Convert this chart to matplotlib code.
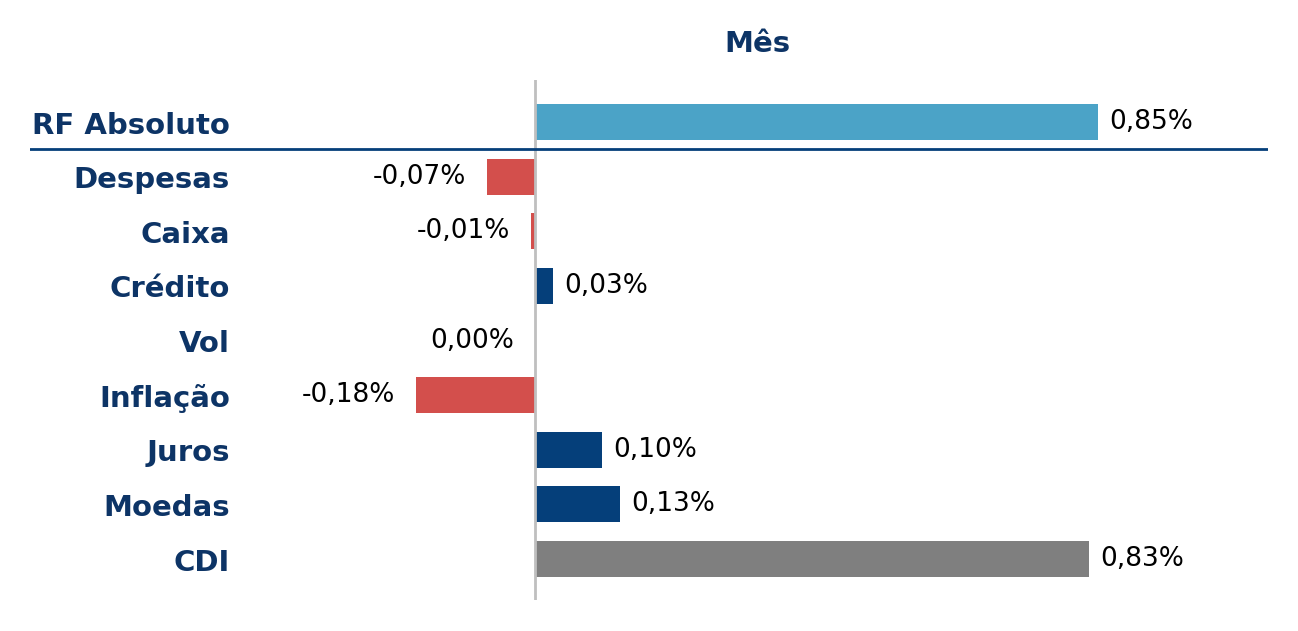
import numpy as np
import matplotlib
matplotlib.use("Agg")
import matplotlib.pyplot as plt

categories = ["RF Absoluto", "Despesas", "Caixa", "Crédito", "Vol",
              "Inflação", "Juros", "Moedas", "CDI"]
values = [0.848, -0.072, -0.006, 0.027, -0.0, -0.179, 0.101, 0.128, 0.834]
bar_colors = ["#4BA3C7", "#D34F4C", "#D34F4C", "#053F7A", "#053F7A",
              "#D34F4C", "#053F7A", "#053F7A", "#7F7F7F"]
title = "Mês"

navy_text = "#0D3466"

fig = plt.figure(figsize=(12.98, 6.31), dpi=100)
W, H = 1298, 631
ax = fig.add_axes([30 / W, 31 / H, 1238 / W, 520 / H])

y = np.arange(len(categories))
ax.barh(y, values, height=0.66, color=bar_colors, zorder=2)

ax.set_xlim(-0.7605, 1.104)
ax.set_ylim(8.75, -0.77)
ax.axis("off")

# zero line and separator under the total
ax.axvline(0, color="#BFBFBF", lw=2, zorder=3)
ax.axhline(0.5, color="#053F7A", lw=2, zorder=3)

for yi, cat in zip(y, categories):
    ax.annotate(cat, (200 / 1238, yi), xycoords=ax.get_yaxis_transform(),
                xytext=(0, -2.5), textcoords="offset points",
                ha="right", va="center", fontsize=21, fontweight="bold",
                color=navy_text)

for yi, v in zip(y, values):
    label = f"{abs(v):.2f}".replace(".", ",") + "%"
    if v > 0:
        ax.annotate(label, (v, yi), xytext=(8, 0), textcoords="offset points",
                    ha="left", va="center", fontsize=19, color="black")
    else:
        if round(v, 2) != 0:
            label = "-" + label
        ax.annotate(label, (v, yi), xytext=(-15, 0), textcoords="offset points",
                    ha="right", va="center", fontsize=19, color="black")

fig.text(757 / W, 1 - 44 / H, title, ha="center", va="center",
         fontsize=21, fontweight="bold", color=navy_text)

fig.savefig("out.png", dpi=100)
